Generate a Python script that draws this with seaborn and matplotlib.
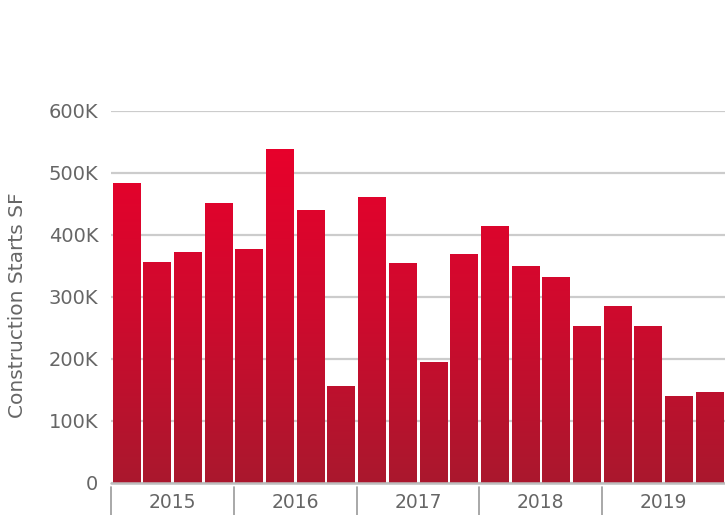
import numpy as np
import pandas as pd
import matplotlib
matplotlib.use("Agg")
import matplotlib.pyplot as plt
import matplotlib.transforms as mtransforms
from matplotlib.colors import LinearSegmentedColormap
import seaborn as sns

# quarterly construction starts, SF
anos = ['2015', '2016', '2017', '2018', '2019']
trimestres = ['Q1', 'Q2', 'Q3', 'Q4']
valores = [484000, 356000, 373000, 451000,
           378000, 539000, 440000, 157000,
           462000, 355000, 195000, 370000,
           415000, 350000, 333000, 254000,
           285000, 254000, 141000, 146000]
ticks_y = [0, 100000, 200000, 300000, 400000, 500000, 600000]
labels_y = ['0', '100K', '200K', '300K', '400K', '500K', '600K']

dados = pd.DataFrame({
    'periodo': [f'{a} {q}' for a in anos for q in trimestres],
    'valor': valores,
})

sns.set_theme(style="white")
plt.rcParams['font.family'] = ['DejaVu Sans']

fig = plt.figure(figsize=(7.25, 5.15), dpi=100)
ax = fig.add_axes([111 / 725, 32 / 515, 614 / 725, 372 / 515])

sns.barplot(data=dados, x='periodo', y='valor', color='#d5052c',
            width=0.9, saturation=1, ax=ax)

# gradiente vertical nas barras (escuro embaixo, vermelho vivo em cima)
cmap = LinearSegmentedColormap.from_list('verm', ['#aa182d', '#cf0a2e', '#ea002b'])
topo = 560000
grad = np.linspace(0, 1, 256).reshape(-1, 1)
for p in ax.patches:
    x0, w, h = p.get_x(), p.get_width(), p.get_height()
    img = ax.imshow(grad[: max(2, int(256 * h / topo))], cmap=cmap, vmin=0, vmax=1,
                    origin='lower', aspect='auto',
                    extent=(x0, x0 + w, 0, h), zorder=2)
    img.set_clip_path(p)
    p.set_facecolor('none')
    p.set_edgecolor('none')

ax.set_xlim(-0.5, 19.5)
ax.set_ylim(0, 600000)
ax.set_yticks(ticks_y)
ax.set_yticklabels(labels_y)
ax.yaxis.grid(True, color='#cccccc', linewidth=1.6)
ax.set_axisbelow(True)
ax.tick_params(axis='y', length=0, pad=9, labelsize=14, labelcolor='#666666')
ax.set_xticks([])
ax.set_xlabel('')
ax.set_ylabel('Construction Starts SF', fontsize=14.5, color='#666666')
ax.yaxis.set_label_coords(-0.137, 0.478)
for s in ax.spines.values():
    s.set_visible(False)

# linha de base
ax.axhline(0, color='#bdbdbd', linewidth=1.8, zorder=3, clip_on=False)

# separadores e rótulos dos anos
trans = mtransforms.blended_transform_factory(ax.transData, fig.transFigure)
for i, ano in enumerate(anos):
    xs = i * 4 - 0.5
    ax.plot([xs, xs], [28 / 515, 0], color='#999999', linewidth=1.2,
            transform=trans, clip_on=False)
    ax.text(xs + 2, 13 / 515, ano, transform=trans, ha='center', va='center',
            fontsize=13.5, color='#666666')

fig.savefig('out.png', dpi=100)
